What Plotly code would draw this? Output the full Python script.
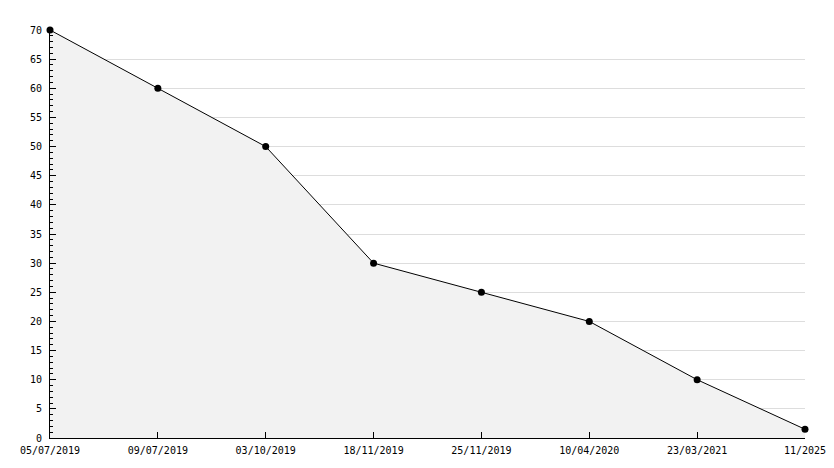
import plotly.graph_objects as go

dates = ["05/07/2019", "09/07/2019", "03/10/2019", "18/11/2019",
         "25/11/2019", "10/04/2020", "23/03/2021", "11/2025"]
values = [70, 60, 50, 30, 25, 20, 10, 1.5]

fig = go.Figure()
fig.add_trace(go.Scatter(
    x=dates, y=values, mode="lines+markers",
    line=dict(color="black", width=1),
    marker=dict(color="black", size=7, symbol="circle"),
    fill="tozeroy", fillcolor="#f2f2f2",
    showlegend=False, cliponaxis=False,
))

font = dict(family="DejaVu Sans Mono", size=10, color="black")
# page body has an 8px default margin; compensate so the plot area lands at x 50-805, y 30-438
fig.update_layout(
    width=834, height=468, autosize=False,
    margin=dict(l=42, r=37, t=22, b=38),
    paper_bgcolor="white", plot_bgcolor="white",
    font=font,
    xaxis=dict(
        type="category", range=[0, len(dates) - 1], automargin=False,
        showgrid=False, zeroline=False,
        showline=True, linecolor="black", linewidth=1,
        ticks="inside", ticklen=6, tickcolor="black",
        ticklabelstandoff=3,
        tickfont=font,
    ),
    yaxis=dict(
        range=[0, 70], dtick=5, tick0=0, automargin=False,
        showgrid=True, gridcolor="#dddddd", gridwidth=1,
        zeroline=False,
        showline=True, linecolor="black", linewidth=1,
        ticks="inside", ticklen=6, tickcolor="black",
        ticklabelstandoff=5,
        minor=dict(dtick=1, ticks="inside", ticklen=3, tickcolor="black", showgrid=False),
        tickfont=font,
    ),
)
fig.write_html("out.html")
